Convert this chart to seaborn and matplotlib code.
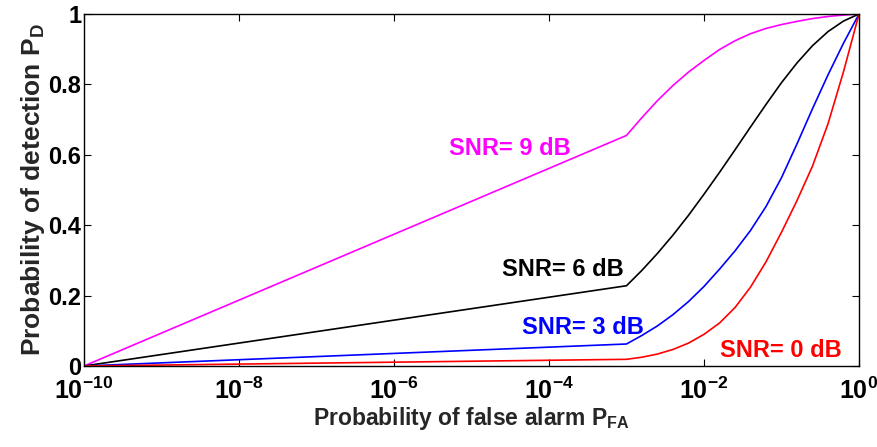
import numpy as np
import pandas as pd
import seaborn as sns
import matplotlib
matplotlib.use("Agg")
import matplotlib.pyplot as plt
from matplotlib import font_manager

# ---------------- data ----------------
log_pfa = [-10, -3, -2.8, -2.6, -2.4, -2.2, -2.0, -1.8, -1.6, -1.4, -1.2, -1.0, -0.8, -0.6, -0.4, -0.2, 0]
pd_9db = [0, 0.655, 0.706, 0.754, 0.797, 0.835, 0.868, 0.899, 0.924, 0.944, 0.959, 0.970, 0.979, 0.987, 0.993, 0.997, 1.0]
pd_6db = [0, 0.228, 0.272, 0.320, 0.372, 0.428, 0.488, 0.550, 0.614, 0.679, 0.743, 0.805, 0.861, 0.910, 0.950, 0.980, 1.0]
pd_3db = [0, 0.0625, 0.087, 0.114, 0.146, 0.183, 0.226, 0.275, 0.327, 0.385, 0.453, 0.535, 0.631, 0.731, 0.827, 0.917, 1.0]
pd_0db = [0, 0.019, 0.025, 0.034, 0.047, 0.065, 0.090, 0.122, 0.166, 0.224, 0.296, 0.380, 0.470, 0.568, 0.688, 0.836, 1.0]
series_names = ["SNR= 9 dB", "SNR= 6 dB", "SNR= 3 dB", "SNR= 0 dB"]
series_colors = ["#ff00ff", "#000000", "#0000ff", "#ff0000"]
x_ticks = [1e-10, 1e-8, 1e-6, 1e-4, 1e-2, 1e0]
x_tick_labels = [r"$10^{-10}$", r"$10^{-8}$", r"$10^{-6}$", r"$10^{-4}$", r"$10^{-2}$", r"$10^{0}$"]
y_ticks = [0, 0.2, 0.4, 0.6, 0.8, 1.0]
y_tick_labels = ["0", "0.2", "0.4", "0.6", "0.8", "1"]

pfa = [10.0 ** v for v in log_pfa]
frames = []
for name, vals in zip(series_names, [pd_9db, pd_6db, pd_3db, pd_0db]):
    frames.append(pd.DataFrame({"PFA": pfa, "PD": vals, "series": name}))
df = pd.concat(frames, ignore_index=True)

# ---------------- style ----------------
sns.set_style("ticks")
names = {f.name for f in font_manager.fontManager.ttflist}
fam = "Liberation Sans Narrow" if "Liberation Sans Narrow" in names else "Liberation Sans"
plt.rcParams["font.family"] = [fam, "DejaVu Sans"]
plt.rcParams["font.weight"] = "bold"
plt.rcParams["mathtext.fontset"] = "custom"
plt.rcParams["mathtext.rm"] = f"{fam}:bold"
plt.rcParams["mathtext.bf"] = f"{fam}:bold"
plt.rcParams["mathtext.it"] = f"{fam}:bold"
plt.rcParams["mathtext.default"] = "bf"

fig = plt.figure(figsize=(8.78, 4.47), dpi=100)
ax = fig.add_axes([84 / 878, 81 / 447, 775 / 878, 352 / 447])

sns.lineplot(data=df, x="PFA", y="PD", hue="series", palette=dict(zip(series_names, series_colors)),
             linewidth=1.2, legend=False, ax=ax, sort=False)

ax.set_xscale("log")
ax.set_xlim(1e-10, 1.0)
ax.set_ylim(0, 1)
ax.set_xticks(x_ticks)
ax.set_xticklabels(x_tick_labels)
ax.xaxis.set_minor_locator(matplotlib.ticker.NullLocator())
ax.set_yticks(y_ticks)
ax.set_yticklabels(y_tick_labels)

ax.tick_params(axis="both", which="major", direction="in", length=5, width=0.8,
               top=True, right=True, colors="black")
ax.tick_params(axis="x", labelsize=18, pad=8)
ax.tick_params(axis="y", labelsize=17, pad=2)
for lab in ax.get_xticklabels() + ax.get_yticklabels():
    lab.set_fontweight("bold")
for sp in ax.spines.values():
    sp.set_linewidth(1.0)
    sp.set_color("black")

ax.set_xlabel(r"Probability of false alarm P$_{\mathbf{FA}}$", fontsize=16.5, fontweight="bold", labelpad=1)
ax.set_ylabel(r"Probability of detection P$_{\mathbf{D}}$", fontsize=19, fontweight="bold", labelpad=1)

label_pos = [(0.471, 0.619), (0.539, 0.273), (0.565, 0.108), (0.821, 0.043)]
for name, col, (tx, ty) in zip(series_names, series_colors, label_pos):
    ax.text(tx, ty, name, color=col, fontsize=17, fontweight="bold",
            transform=ax.transAxes, ha="left", va="center")

fig.savefig("out.png", dpi=100)
